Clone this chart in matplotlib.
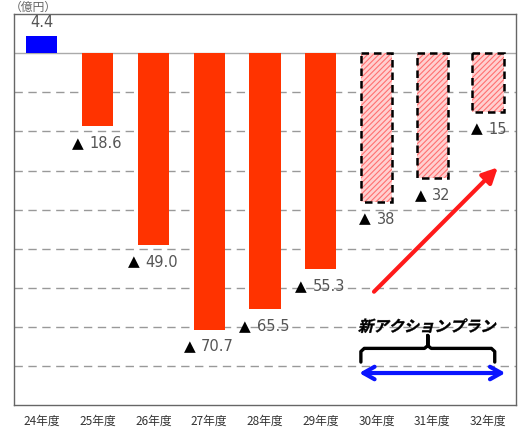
import matplotlib.pyplot as plt
import numpy as np
from matplotlib.textpath import TextPath
from matplotlib.patches import PathPatch
from matplotlib.font_manager import FontProperties
from matplotlib.transforms import Affine2D, IdentityTransform

plt.rcParams['font.family'] = ['Noto Sans CJK JP', 'DejaVu Sans']
plt.rcParams['hatch.linewidth'] = 0.8

# data (億円)
years = ['24年度', '25年度', '26年度', '27年度', '28年度', '29年度', '30年度', '31年度', '32年度']
actual = [4.4, -18.6, -49.0, -70.7, -65.5, -55.3]
plan = [-38, -32, -15]
actual_labels = ['4.4', '18.6', '49.0', '70.7', '65.5', '55.3']
plan_labels = ['38', '32', '15']

fig = plt.figure(figsize=(5.18, 4.30), dpi=100)
ax = fig.add_axes([0.027, 0.058, 0.969, 0.909])
ax.set_xlim(-0.5, 8.5)
ax.set_ylim(-90, 10)

x = np.arange(len(years))
xa = x[:len(actual)]
xp = x[len(actual):]

# grid
for g in range(-80, 0, 10):
    ax.axhline(g, color='#999999', lw=1.0, ls=(0, (6, 4)), zorder=0)
ax.axhline(0, color='#aaaaaa', lw=1.0, zorder=0)

colors = ['#0000ff'] + ['#ff3300'] * (len(actual) - 1)
ax.bar(xa, actual, width=0.56, color=colors, zorder=2)

# plan bars: hatched pink with dashed frame
ax.bar(xp, plan, width=0.56, color='#ffd0d0', edgecolor='#ff7070', hatch='//////', lw=0, zorder=2)
ax.bar(xp, plan, width=0.56, fill=False, edgecolor='black', lw=1.8, ls=(0, (3, 2)), zorder=3)

num_font = dict(fontsize=10.5, color='#555555', family='DejaVu Sans')
tri_font = dict(fontsize=11, color='black', family='DejaVu Sans')

# value labels
for xi, v, lab in zip(xa, actual, actual_labels):
    if v > 0:
        ax.text(xi, v + 1.5, lab, ha='center', va='bottom', **num_font)
    else:
        ax.annotate('▲', (xi, v - 4.4), xytext=(-10, 0), textcoords='offset points',
                    ha='right', va='center', **tri_font)
        ax.annotate(lab, (xi, v - 4.4), xytext=(-6, 0), textcoords='offset points',
                    ha='left', va='center', **num_font)
for xi, v, lab in zip(xp, plan, plan_labels):
    ax.annotate('▲', (xi, v - 4.4), xytext=(-4, 0), textcoords='offset points',
                ha='right', va='center', **tri_font)
    ax.annotate(lab, (xi, v - 4.4), xytext=(0, 0), textcoords='offset points',
                ha='left', va='center', **num_font)

# red trend arrow
ax.annotate('', xy=(8.21, -28.7), xytext=(5.92, -61.5),
            arrowprops=dict(arrowstyle='-|>,head_length=0.9,head_width=0.45', color='#ff1a1a', lw=3),
            zorder=4)

# 新アクションプラン label (slanted), brace and span arrow
fp = FontProperties(family='Noto Sans CJK JP', weight='bold')
tp = TextPath((0, 0), '新アクションプラン', size=11, prop=fp)
bb = tp.get_extents()
cx, cy = ax.transData.transform((6.92, -69.7))
tr = (Affine2D().translate(-bb.x0 - bb.width / 2, -bb.y0 - bb.height / 2)
      .skew_deg(14, 0).scale(fig.dpi / 72).translate(cx, cy))
ax.add_patch(PathPatch(tr.transform_path(tp), transform=IdentityTransform(),
                       facecolor='black', edgecolor='black', lw=0.3, zorder=4))

bx = [5.72, 5.72, 5.78, 6.86, 6.92, 6.92, 6.92, 6.98, 8.06, 8.12, 8.12]
by = [-79.0, -76.3, -75.5, -75.5, -74.8, -72.2, -74.8, -75.5, -75.5, -76.3, -79.0]
ax.plot(bx, by, color='black', lw=2.4, solid_capstyle='round', zorder=4)
ax.annotate('', xy=(8.36, -81.8), xytext=(5.64, -81.8),
            arrowprops=dict(arrowstyle='<->,head_length=0.8,head_width=0.45', color='#0a14ff', lw=3),
            zorder=4)

ax.set_xticks(x)
ax.set_xticklabels(years, fontsize=8.5, color='#333333')
ax.tick_params(axis='x', length=0, pad=7)
ax.set_yticks([])
for s in ax.spines.values():
    s.set_color('#666666')
    s.set_linewidth(1.0)

fig.text(0.018, 0.999, '（億円）', ha='left', va='top', fontsize=8.5, color='#666666')

fig.savefig('out.png', dpi=100)
